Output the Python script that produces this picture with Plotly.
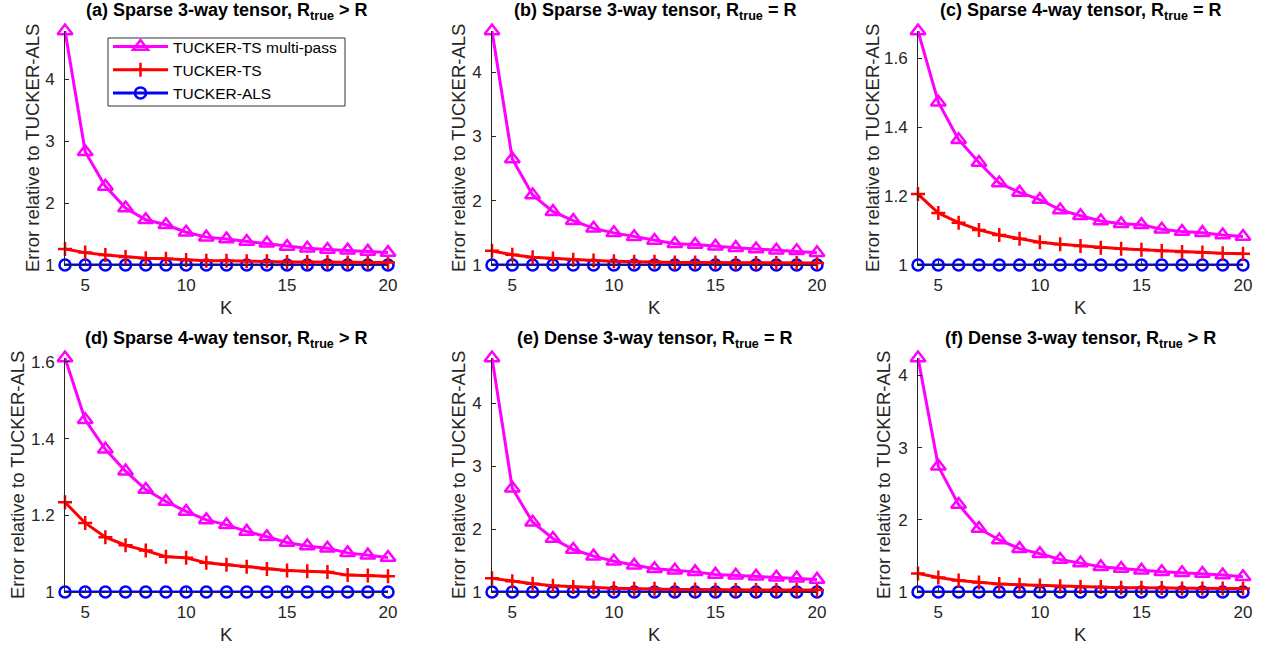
import plotly.graph_objects as go

K = list(range(4, 21))

titles = [
    "(a) Sparse 3-way tensor, R<sub>true</sub> > R",
    "(b) Sparse 3-way tensor, R<sub>true</sub> = R",
    "(c) Sparse 4-way tensor, R<sub>true</sub> = R",
    "(d) Sparse 4-way tensor, R<sub>true</sub> > R",
    "(e) Dense 3-way tensor, R<sub>true</sub> = R",
    "(f) Dense 3-way tensor, R<sub>true</sub> > R",
]
ylabel = "Error relative to TUCKER-ALS"
xlabel = "K"

multipass_a = [4.78, 2.83, 2.27, 1.92, 1.73, 1.65, 1.53, 1.45, 1.42, 1.38, 1.35, 1.30, 1.27, 1.25, 1.24, 1.22, 1.20]
ts_a = [1.26, 1.20, 1.16, 1.13, 1.11, 1.10, 1.08, 1.07, 1.07, 1.06, 1.06, 1.05, 1.05, 1.05, 1.04, 1.04, 1.04]

multipass_b = [4.64, 2.65, 2.09, 1.83, 1.69, 1.57, 1.50, 1.44, 1.38, 1.33, 1.32, 1.29, 1.27, 1.25, 1.23, 1.22, 1.19]
ts_b = [1.22, 1.16, 1.12, 1.10, 1.08, 1.07, 1.06, 1.05, 1.05, 1.04, 1.04, 1.04, 1.03, 1.03, 1.03, 1.03, 1.03]

multipass_c = [1.68, 1.473, 1.364, 1.298, 1.238, 1.211, 1.19, 1.16, 1.143, 1.128, 1.12, 1.117, 1.104, 1.097, 1.094, 1.087, 1.083]
ts_c = [1.206, 1.151, 1.123, 1.102, 1.087, 1.076, 1.066, 1.06, 1.055, 1.05, 1.047, 1.044, 1.041, 1.038, 1.036, 1.034, 1.033]

multipass_d = [1.61, 1.449, 1.372, 1.315, 1.267, 1.236, 1.21, 1.188, 1.175, 1.158, 1.144, 1.129, 1.12, 1.114, 1.102, 1.096, 1.09]
ts_d = [1.234, 1.18, 1.143, 1.122, 1.108, 1.092, 1.089, 1.076, 1.071, 1.066, 1.06, 1.056, 1.054, 1.052, 1.044, 1.043, 1.041]

multipass_e = [4.72, 2.65, 2.11, 1.85, 1.675, 1.57, 1.49, 1.425, 1.37, 1.345, 1.32, 1.28, 1.265, 1.25, 1.235, 1.22, 1.20]
ts_e = [1.22, 1.17, 1.13, 1.10, 1.08, 1.07, 1.06, 1.05, 1.05, 1.04, 1.04, 1.035, 1.03, 1.03, 1.03, 1.03, 1.03]

multipass_f = [4.24, 2.74, 2.21, 1.88, 1.72, 1.60, 1.53, 1.45, 1.40, 1.35, 1.325, 1.30, 1.28, 1.265, 1.255, 1.235, 1.21]
ts_f = [1.255, 1.20, 1.16, 1.13, 1.11, 1.10, 1.09, 1.08, 1.07, 1.07, 1.06, 1.06, 1.055, 1.05, 1.05, 1.05, 1.05]

als = [1.0] * len(K)

multipass = [multipass_a, multipass_b, multipass_c, multipass_d, multipass_e, multipass_f]
ts = [ts_a, ts_b, ts_c, ts_d, ts_e, ts_f]

yticks_big = [1, 2, 3, 4]
yticks_small = [1, 1.2, 1.4, 1.6]
yticks = [yticks_big, yticks_big, yticks_small, yticks_small, yticks_big, yticks_big]
xticks = [5, 10, 15, 20]

W, H = 1266, 645
col_px = [(65, 388), (492, 817), (918, 1243)]
row_px = [(31, 265), (358, 592)]
ytitle_off = [33, 34, 46, 48, 34, 35]

FONT = "Liberation Sans, Arial, Helvetica, sans-serif"
TXT = "#262626"

fig = go.Figure()
layout = dict(
    width=W, height=H, margin=dict(l=0, r=0, t=0, b=0),
    paper_bgcolor="white", plot_bgcolor="white",
    font=dict(family=FONT, color=TXT),
    showlegend=True,
    legend=dict(
        x=108 / W, y=1 - 30 / H, xanchor="left", yanchor="top",
        bgcolor="rgba(0,0,0,0)", borderwidth=0,
        font=dict(size=15.5, family=FONT, color="#000000"),
        traceorder="reversed", tracegroupgap=0, itemwidth=55,
    ),
    shapes=[dict(
        type="rect", xref="paper", yref="paper",
        x0=108 / W, x1=345 / W, y0=1 - 106 / H, y1=1 - 38 / H,
        line=dict(color="#333333", width=1), fillcolor="white", layer="above",
    )],
)
annotations = []

for i in range(6):
    r, c = divmod(i, 3)
    x0, x1 = col_px[c]
    y0, y1 = row_px[r]
    ax = "" if i == 0 else str(i + 1)
    xa, ya = "x" + ax, "y" + ax
    ymax = multipass[i][0]
    layout["xaxis" + ax] = dict(
        domain=[x0 / W, x1 / W], anchor=ya, range=[4, 20], automargin=False,
        tickvals=xticks, ticks="inside", ticklen=4, tickcolor=TXT,
        showline=True, linecolor=TXT, linewidth=1, showgrid=False, zeroline=False,
        tickfont=dict(size=17, color=TXT, family=FONT), ticklabelstandoff=5,
    )
    layout["yaxis" + ax] = dict(
        domain=[1 - y1 / H, 1 - y0 / H], anchor=xa, range=[1, ymax], automargin=False,
        tickvals=yticks[i], ticks="inside", ticklen=4, tickcolor=TXT,
        showline=True, linecolor=TXT, linewidth=1, showgrid=False, zeroline=False,
        tickfont=dict(size=17, color=TXT, family=FONT), ticklabelstandoff=6,
    )
    annotations.append(dict(
        text="<b>" + titles[i] + "</b>", xref="paper", yref="paper",
        x=(x0 + x1) / 2 / W, y=1 - (y0 - 19) / H, xanchor="center", yanchor="middle",
        showarrow=False, font=dict(size=18, color="#000000", family=FONT),
    ))
    annotations.append(dict(
        text=ylabel, xref="paper", yref="paper", textangle=-90,
        x=(x0 - ytitle_off[i]) / W, y=1 - (y0 + y1) / 2 / H, xanchor="center", yanchor="middle",
        showarrow=False, font=dict(size=18.5, color=TXT, family=FONT),
    ))
    annotations.append(dict(
        text=xlabel, xref="paper", yref="paper",
        x=(x0 + x1) / 2 / W, y=1 - (y1 + 42) / H, xanchor="center", yanchor="middle",
        showarrow=False, font=dict(size=18.5, color=TXT, family=FONT),
    ))
    show = i == 0
    fig.add_trace(go.Scatter(
        x=K, y=als, mode="lines+markers", name="TUCKER-ALS", showlegend=show,
        line=dict(color="#0000FF", width=3),
        marker=dict(symbol="circle-open", size=11, line=dict(width=2.5, color="#0000FF")),
        xaxis=xa, yaxis=ya, cliponaxis=False,
    ))
    fig.add_trace(go.Scatter(
        x=K, y=ts[i], mode="lines+markers", name="TUCKER-TS", showlegend=show,
        line=dict(color="#FF0000", width=3),
        marker=dict(symbol="cross-thin-open", size=10, line=dict(width=2.5, color="#FF0000")),
        xaxis=xa, yaxis=ya, cliponaxis=False,
    ))
    fig.add_trace(go.Scatter(
        x=K, y=multipass[i], mode="lines+markers", name="TUCKER-TS multi-pass", showlegend=show,
        line=dict(color="#FF00FF", width=3),
        marker=dict(symbol="triangle-up-open", size=13, line=dict(width=2.5, color="#FF00FF")),
        xaxis=xa, yaxis=ya, cliponaxis=False,
    ))

layout["annotations"] = annotations
fig.update_layout(**layout)
fig.write_html("out.html")
